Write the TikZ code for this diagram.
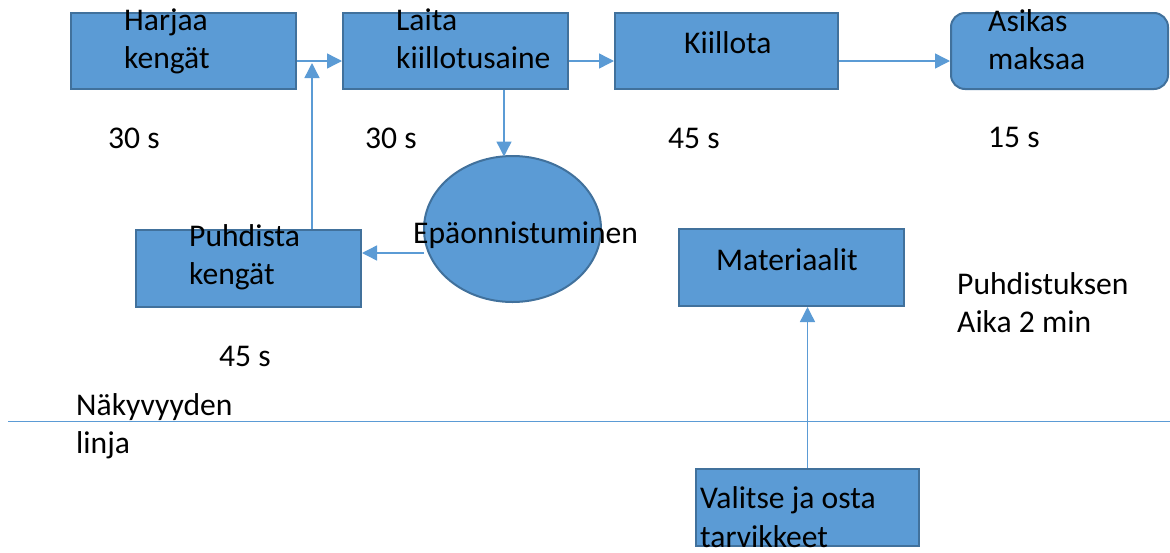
\documentclass[tikz,border=0pt]{standalone}
\usepackage{fontspec}
\setmainfont{Carlito}
\usetikzlibrary{arrows.meta,shapes.geometric,calc}
\definecolor{boxfill}{HTML}{5B9BD5}
\definecolor{boxline}{HTML}{41719C}
\definecolor{flow}{HTML}{5B9BD5}
\tikzset{
  procbox/.style={draw=boxline, line width=2pt, fill=boxfill, rectangle, inner sep=0pt},
  endbox/.style={procbox, rounded corners=14pt},
  decision/.style={draw=boxline, line width=2pt, fill=boxfill, ellipse, inner sep=0pt},
  lbl/.style={anchor=base west, inner sep=0pt, font=\fontsize{31.6}{38}\selectfont, text=black},
  flowarrow/.style={draw=flow, line width=1.4pt, -{Triangle[length=15pt,width=15pt]}},
  flowline/.style={draw=flow, line width=1.4pt}
}
\begin{document}
\begin{tikzpicture}[x=1pt,y=-1pt]
\useasboundingbox (0,0) rectangle (1170,552);

% process boxes
\node[procbox, minimum width=225pt, minimum height=76pt] (harjaa) at (183.5,51) {};
\node[procbox, minimum width=225pt, minimum height=76pt] (laita) at (455.5,51) {};
\node[procbox, minimum width=223pt, minimum height=76pt] (kiillota) at (726.5,51) {};
\node[endbox, minimum width=217pt, minimum height=76pt] (maksaa) at (1059.5,51) {};
\node[decision, minimum width=177pt, minimum height=146pt] (fail) at (512.5,229) {};
\node[procbox, minimum width=225pt, minimum height=77pt] (puhdista) at (248.5,268.5) {};
\node[procbox, minimum width=225pt, minimum height=77pt] (mat) at (791.5,267.5) {};
\node[procbox, minimum width=223pt, minimum height=77pt] (valitse) at (807.5,507.5) {};

% connectors
\coordinate (join) at (312,63);
\draw[flowarrow] ($(harjaa.east)+(0,10)$) -- ($(laita.west)+(0,10)$);
\draw[flowarrow] ($(laita.east)+(0,10)$) -- ($(kiillota.west)+(0,10)$);
\draw[flowarrow] ($(kiillota.east)+(0,10)$) -- ($(maksaa.west)+(0,10)$);
\draw[flowarrow] (puhdista.north -| join) -- (join);
\coordinate (down) at (504,89);
\draw[flowarrow] (laita.south -| down) -- (504,156.5);
\coordinate (back) at (424,253);
\draw[flowarrow] (back) -- (puhdista.east |- back);
\draw[flowarrow] (valitse.north) -- (mat.south -| valitse.north);

% line of visibility
\coordinate (vl) at (8,421);
\coordinate (vr) at (1170,421);
\draw[flowline, line width=1pt] (vl) -- (vr);

% texts
\node[lbl] (t1a) at (124,30) {Harjaa};
\node[lbl] (t1b) at (124,68) {kengät};
\node[lbl] (t2a) at (396,30) {Laita};
\node[lbl] (t2b) at (396,68) {kiillotusaine};
\node[lbl] (t3) at (684,53) {Kiillota};
\node[lbl] (t4a) at (988,31) {Asikas};
\node[lbl] (t4b) at (988,69) {maksaa};
\node[lbl] (t5) at (413,243) {Epäonnistuminen};
\node[lbl] (t6a) at (189,246) {Puhdista};
\node[lbl] (t6b) at (189,284) {kengät};
\node[lbl] (t7) at (716,270) {Materiaalit};
\node[lbl] (t8a) at (700,508) {Valitse ja osta};
\node[lbl] (t8b) at (700,547) {tarvikkeet};

\node[lbl] (s1) at (108,148) {30 s};
\node[lbl] (s2) at (365,148) {30 s};
\node[lbl] (s3) at (668,148) {45 s};
\begin{scope}
  \clip (900,100) rectangle (1170,148);
  \node[lbl] (s4) at (988,147) {15 s};
\end{scope}
\node[lbl] (s5) at (219,366) {45 s};

\node[lbl] (n1) at (957,294) {Puhdistuksen};
\node[lbl] (n2) at (957,332) {Aika 2 min};
\node[lbl] (v1) at (76,415) {Näkyvyyden};
\node[lbl] (v2) at (76,453) {linja};
\end{tikzpicture}
\end{document}
